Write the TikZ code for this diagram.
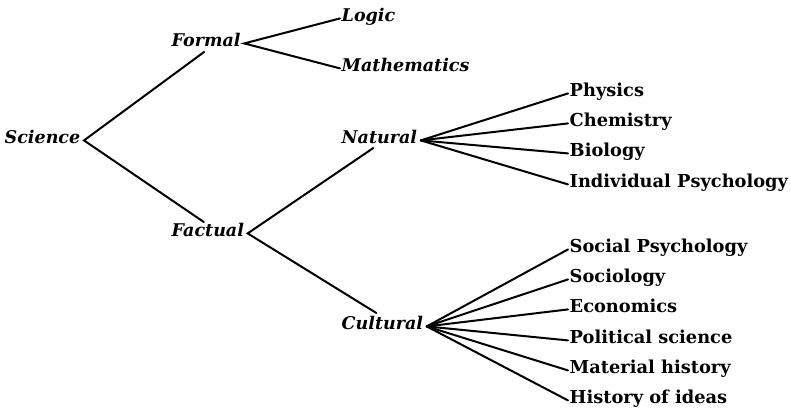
\documentclass[tikz,border=0pt]{standalone}
\usepackage{fontspec}
\setmainfont{DejaVu Serif}
\begin{document}
\begin{tikzpicture}[x=1pt,y=-1pt,
  cat/.style={font=\fontsize{17.5}{19}\selectfont\bfseries\itshape, inner sep=1.5pt, anchor=base west},
  leaf/.style={font=\fontsize{17.8}{19}\selectfont\bfseries, inner sep=1.5pt, anchor=base west},
  edge/.style={line width=2pt, line cap=round}]
\useasboundingbox (0,0) rectangle (791,413);
% category nodes
\node[cat] (science) at (3,143) {Science};
\node[cat] (formal) at (170,46) {Formal};
\node[cat] (factual) at (170,236) {Factual};
\node[cat] (natural) at (340,143) {Natural};
\node[cat] (cultural) at (340,329) {Cultural};
% formal leaves
\node[cat] (logic) at (340,21) {Logic};
\node[cat] (math) at (340,71) {Mathematics};
% natural leaves
\node[leaf] (phys) at (568,96) {Physics};
\node[leaf] (chem) at (568,126) {Chemistry};
\node[leaf] (bio) at (568,156) {Biology};
\node[leaf] (indp) at (568,187) {Individual Psychology};
% cultural leaves
\node[leaf] (socp) at (568,252) {Social Psychology};
\node[leaf] (soc) at (568,282) {Sociology};
\node[leaf] (eco) at (568,312) {Economics};
\node[leaf] (pol) at (568,343) {Political science};
\node[leaf] (mat) at (568,373) {Material history};
\node[leaf] (hist) at (568,403) {History of ideas};
% connectors
\draw[edge] ([xshift=-2pt,yshift=-4pt]formal.south) -- ([xshift=2pt]science.mid east) -- ([xshift=-4pt,yshift=-1pt]factual.north);
\draw[edge] ([xshift=-6pt,yshift=-3pt]natural.south) -- ([xshift=2pt]factual.mid east) -- ([xshift=-6pt,yshift=1pt]cultural.north);
\draw[edge] (logic.mid west) -- ([xshift=2pt]formal.mid east) -- (math.mid west);
\foreach \n in {phys,chem,bio,indp}
  \draw[edge] ([xshift=2pt]natural.mid east) -- (\n.mid west);
\foreach \n in {socp,soc,eco,pol,mat,hist}
  \draw[edge] ([xshift=2pt]cultural.mid east) -- (\n.mid west);
\end{tikzpicture}
\end{document}
